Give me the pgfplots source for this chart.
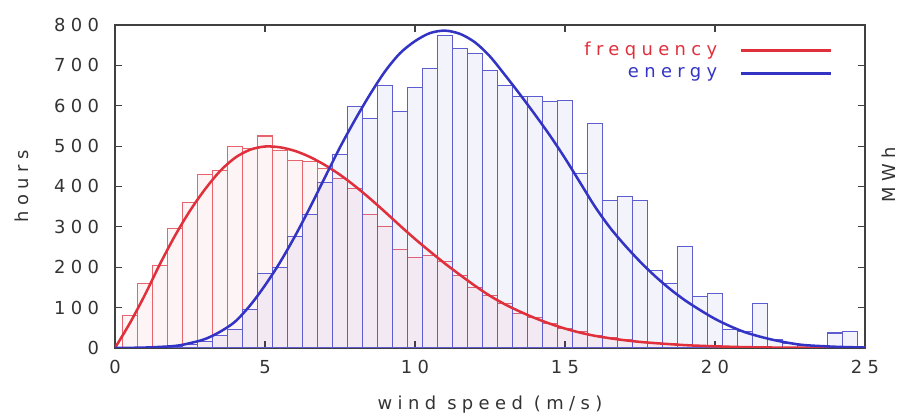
\documentclass[border=0pt]{standalone}
\usepackage{fontspec}
\setmainfont{DejaVu Sans}[LetterSpace=30]
\usepackage{pgfplots}
\usepackage{pgfplotstable}
\pgfplotsset{compat=1.18}
\usetikzlibrary{calc}
\definecolor{freqred}{HTML}{E0303C}
\definecolor{enblue}{HTML}{3434C4}

% histogram bins, 0.5 m/s wide, centred on c
\pgfplotstableread{
c    freq energy
0.5  80   0
1    160  1
1.5  205  2
2    295  4
2.5  360  8
3    430  15
3.5  440  30
4    500  45
4.5  495  95
5    525  185
5.5  490  200
6    465  275
6.5  462  330
7    445  410
7.5  420  480
8    395  597
8.5  330  569
9    300  651
9.5  245  585
10   225  645
10.5 230  692
11   215  775
11.5 180  742
12   150  730
12.5 130  688
13   110  650
13.5 85   623
14   75   622
14.5 60   610
15   48   614
15.5 40   433
16   30   557
16.5 25   365
17   20   374
17.5 15   366
18   12   193
18.5 10   160
19   8    251
19.5 6    127
20   5    136
20.5 4    45
21   3    40
21.5 2    111
22   2    20
22.5 1    10
23   1    5
23.5 1    3
24   0.5  37
24.5 0.5  40
}\bins

% fitted curves
\pgfplotstableread{
x    y
0    0
0.5  62
1    132
1.5  208
2    278
2.5  340
3    393
3.5  438
4    471
4.5  491
5    499
5.5  497
6    488
6.5  473
7    453
7.5  429
8    401
8.5  370
9    337
9.5  303
10   270
10.5 239
11   209
11.5 181
12   154
12.5 129
13   108
13.5 90
14   74
14.5 60
15   48
15.5 38
16   30
16.5 24
17   19
17.5 15
18   12
19   7
20   4
21   2
22   1
23   0.5
25   0
}\freqcurve

\pgfplotstableread{
x    y
0    0
1    1
2    5
2.5  12
3    22
3.5  40
4    65
4.5  105
5    155
5.5  212
6    277
6.5  348
7    423
7.5  497
8    565
8.5  628
9    685
9.5  730
10   760
10.5 780
11   786
11.5 778
12   757
12.5 722
13   676
13.5 628
14   578
14.5 526
15   470
15.5 410
16   350
16.5 298
17   254
17.5 214
18   178
18.5 146
19   118
19.5 94
20   72
20.5 54
21   39
21.5 28
22   19
22.5 12
23   7
24   3
25   1
}\energycurve

\begin{document}
\begin{tikzpicture}
\begin{axis}[
    name=ax,
    scale only axis,
    width=12.5cm,
    height=5.383cm,
    xmin=0, xmax=25,
    ymin=0, ymax=800,
    xtick={0,5,...,25},
    ytick={0,100,...,800},
    /pgf/number format/assume math mode=true,
    tick label style={font=\fontsize{8.5}{10}\selectfont, text=black!80},
    label style={font=\fontsize{8.5}{10}\selectfont, text=black!80},
    xticklabel style={yshift=-2.5pt},
    yticklabel style={xshift=-4pt},
    xlabel={wind speed (m/s)},
    ylabel={hours},
    xlabel style={at={(axis description cs:0.5,-0.176)}, anchor=center},
    ylabel style={at={(axis description cs:-0.124,0.5)}, anchor=center},
    axis line style={black!75, line width=0.6pt},
    tick style={black!75, line width=0.5pt},
    major tick length=3.5pt,
    legend plot pos=right,
    legend cell align=right,
    legend image code/.code={\draw[#1] (0cm,0cm) -- (1.5cm,0cm);},
    legend style={at={(axis description cs:0.965,0.975)}, anchor=north east,
        draw=none, fill=none, font=\fontsize{8.5}{10}\selectfont,
        /tikz/every odd column/.append style={column sep=0.3cm}}
]
\addplot[ybar, bar width=0.5, bar shift=0pt, draw=freqred!75, line width=0.5pt,
    fill=freqred, fill opacity=0.05, forget plot] table[x=c, y=freq] {\bins};
\addplot[ybar, bar width=0.5, bar shift=0pt, draw=enblue!80, line width=0.5pt,
    fill=enblue, fill opacity=0.06, forget plot] table[x=c, y=energy] {\bins};
\addplot[freqred, line width=1.2pt, smooth] table {\freqcurve};
\addlegendentry{\textcolor{freqred}{frequency}}
\addplot[enblue, line width=1.2pt, smooth] table {\energycurve};
\addlegendentry{\textcolor{enblue}{energy}}
\end{axis}
\node[rotate=90, font=\fontsize{8.5}{10}\selectfont, text=black!80, anchor=north,
    inner sep=0pt] at ($(ax.east)+(0.28cm,0.2cm)$) {MWh};
\pgfresetboundingbox
\path[use as bounding box] ($(ax.south west)+(-1.9167cm,-1.1cm)$)
    rectangle ($(ax.north east)+(0.5833cm,0.4167cm)$);
\end{tikzpicture}
\end{document}
